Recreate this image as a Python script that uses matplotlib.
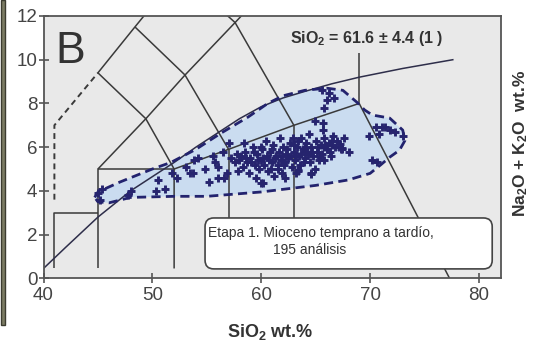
import matplotlib
matplotlib.use("Agg")
import matplotlib.pyplot as plt
from matplotlib.patches import FancyBboxPatch, Polygon, Rectangle

plt.rcParams['font.family'] = ['Liberation Sans', 'DejaVu Sans']
plt.rcParams['mathtext.fontset'] = 'custom'
plt.rcParams['mathtext.bf'] = 'Liberation Sans:bold'
plt.rcParams['mathtext.rm'] = 'Liberation Sans'
plt.rcParams['mathtext.default'] = 'bf'

# ---------------- data ----------------
sio2 = [
    57.6, 57.9, 58.1, 58.3, 58.5, 58.7, 58.9, 59.0, 59.2, 59.4, 59.6, 59.8, 60.0, 60.1, 60.3,
    60.5, 60.6, 60.8, 61.0, 61.1, 61.3, 61.5, 61.6, 61.8, 62.0, 62.1, 62.3, 62.5, 62.6, 62.8,
    63.0, 63.1, 63.3, 63.5, 63.6, 63.8, 64.0, 64.1, 64.3, 64.5, 64.6, 64.8, 65.0, 65.1, 65.3,
    65.5, 65.6, 65.8, 66.0, 66.2, 66.4, 66.6, 66.8, 67.0, 67.3, 67.6, 59.5, 61.2, 63.4, 64.9,
    62.2, 60.4, 62.9, 64.4, 65.7, 61.7, 58.4,
    58.0, 58.6, 59.1, 59.7, 60.2, 60.7, 61.4, 61.9, 62.4, 62.7, 63.2, 63.7, 64.2, 64.7, 65.2,
    65.9, 66.5, 60.9, 61.5, 62.2, 63.9, 59.3, 60.0, 61.0, 63.0, 64.0, 65.4, 66.3, 67.2, 57.8,
    65.6, 66.2, 65.8, 64.9, 63.4, 57.2, 56.0, 55.6, 53.8, 53.1, 68.1, 66.5, 67.1,
    54.2, 55.8, 56.6, 60.2, 61.9, 63.4, 64.6, 65.8, 67.4, 65.7, 63.7,
    70.5, 71.1, 71.8, 72.3, 73.0, 70.8, 69.9, 70.2, 70.6, 71.4,
    66.0, 66.7, 65.8, 67.4,
    45.0, 45.2, 45.4, 48.0, 47.8, 50.3, 51.2, 51.8, 52.3, 50.5, 53.5, 54.8, 55.2, 56.5, 57.0,
    53.7, 56.0, 56.9, 60.0, 63.2, 64.6,
]
alkalis = [
    5.3, 4.9, 5.6, 5.1, 5.8, 5.3, 4.8, 5.5, 6.0, 5.2, 5.7, 5.0, 5.4, 5.9, 5.2,
    5.6, 4.9, 5.8, 5.3, 6.1, 5.5, 5.0, 5.8, 5.4, 6.0, 5.2, 5.7, 5.5, 6.2, 5.1,
    5.8, 5.4, 6.0, 5.6, 5.2, 5.9, 5.5, 6.2, 5.7, 5.3, 6.0, 5.6, 6.3, 5.8, 5.4,
    6.1, 5.7, 6.4, 5.9, 6.2, 5.6, 6.5, 6.0, 6.3, 5.9, 6.4, 4.6, 4.7, 4.9, 5.0,
    4.6, 6.3, 6.4, 6.6, 6.8, 6.4, 6.2,
    5.4, 5.5, 5.3, 5.4, 5.5, 5.4, 5.6, 5.6, 5.9, 5.6, 5.6, 5.7, 5.8, 5.8, 6.0,
    6.1, 6.1, 5.0, 5.2, 5.3, 5.3, 5.8, 6.0, 5.9, 6.1, 5.95, 5.55, 5.8, 6.15, 5.7,
    8.6, 8.5, 7.8, 7.2, 6.3, 5.5, 5.1, 5.6, 5.4, 5.1, 5.8, 6.3, 6.0,
    5.5, 5.3, 4.6, 4.35, 4.8, 4.95, 4.8, 5.4, 5.95, 7.1, 6.4,
    6.9, 6.9, 6.8, 6.7, 6.5, 6.6, 6.5, 5.4, 5.3, 6.9,
    8.15, 8.25, 6.0, 5.9,
    3.9, 3.6, 4.1, 4.0, 3.8, 4.0, 4.1, 4.8, 4.6, 4.5, 4.8, 5.0, 4.4, 5.8, 6.2,
    4.8, 4.6, 4.8, 4.35, 4.8, 4.75,
]

# field outline of the analyses (dashed, filled)
field_x = [44.7, 45.0, 47.0, 50.0, 51.7, 54.0, 56.3, 58.8, 60.6, 62.0, 64.0, 66.0, 67.5,
           68.8, 69.5, 70.2, 71.8, 73.0, 73.2, 72.7, 71.8, 71.0, 70.0, 68.0, 65.0,
           60.0, 55.0, 52.0, 48.0, 46.0, 45.0]
field_y = [3.7, 3.95, 4.4, 5.0, 5.3, 5.9, 6.64, 7.38, 8.0, 8.35, 8.6, 8.7, 8.6,
           8.05, 7.7, 7.47, 7.33, 6.78, 6.3, 5.86, 5.54, 5.2, 4.8, 4.5, 4.25,
           3.95, 3.75, 3.75, 3.7, 3.45, 3.5]

# TAS classification boundaries (Le Bas et al., 1986)
tas_lines = [
    [(41, 0.45), (41, 3), (45, 3)],
    [(45, 0.45), (45, 5), (52, 5)],
    [(52, 0.45), (52, 5), (57, 5.9), (63, 7), (69, 8)],
    [(57, 0.45), (57, 5.9)],
    [(63, 0.45), (63, 7)],
    [(69, 8), (77.3, 0)],
    [(45, 5), (49.4, 7.3), (53, 9.3), (57.6, 11.7), (61, 13.5)],
    [(52, 5), (49.4, 7.3), (45, 9.4), (48.4, 11.5), (52.5, 14)],
    [(57, 5.9), (53, 9.3), (48.4, 11.5)],
    [(63, 7), (57.6, 11.7), (52.5, 14)],
    [(69, 8), (69, 10.3)],
]
tas_dashed = [(41, 3.6), (41, 7), (45, 9.4)]

# alkaline / subalkaline divide (Irvine & Baragar, 1971)
irv_x = [40.0, 42.0, 45.0, 48.0, 52.0, 54.0, 56.0, 58.0, 60.0, 62.0, 64.0, 66.5, 69.0, 73.0, 77.6]
irv_y = [0.45, 1.4, 2.8, 4.0, 5.3, 6.0, 6.65, 7.3, 7.85, 8.25, 8.55, 8.9, 9.2, 9.6, 10.0]

x_ticks = [40, 50, 60, 70, 80]
y_ticks = [0, 2, 4, 6, 8, 10, 12]

# ---------------- figure ----------------
W, H = 534, 348
fig = plt.figure(figsize=(W / 100, H / 100), dpi=100)
fig.patch.set_facecolor('white')
ax = fig.add_axes([43.5 / W, 1 - 278.3 / H, (500.7 - 43.5) / W, (278.3 - 16) / H])
ax.set_facecolor('#e9e9e9')
ax.set_xlim(40, 82)
ax.set_ylim(0, 12)

# left frame remnant
fig.add_artist(Rectangle((0.5 / W, 1 - 325 / H), 4.5 / W, 325 / H, transform=fig.transFigure,
                         facecolor='#7c7c64', edgecolor='#3c3c30', lw=1.0))

ax.add_patch(Polygon(list(zip(field_x, field_y)), closed=True, facecolor='#cadcf0',
                     edgecolor='none', zorder=1))

line_col = '#3a3a3a'
for seg in tas_lines:
    xs, ys = zip(*seg)
    ax.plot(xs, ys, color=line_col, lw=1.1, zorder=2, solid_capstyle='butt')
xs, ys = zip(*tas_dashed)
ax.plot(xs, ys, color=line_col, lw=1.4, zorder=2, dashes=(3, 2.2))
ax.plot(irv_x, irv_y, color='#2e2e4a', lw=1.1, zorder=2)

ax.plot(field_x + field_x[:1], field_y + field_y[:1], color='#23236e', lw=2.0,
        dashes=(3.3, 1.9), zorder=3)

ax.plot(sio2, alkalis, linestyle='none', marker='+', markersize=5.6, mew=2.1,
        color='#26246e', zorder=4)

# annotation box
box = FancyBboxPatch((54.84, 0.43), 81.22 - 54.84, 2.76 - 0.43,
                     boxstyle='round,pad=0,rounding_size=0.8', mutation_aspect=0.5,
                     facecolor='white', edgecolor='#444444', lw=1.2, zorder=5)
ax.add_patch(box)
ax.text(55.1, 2.07, 'Etapa 1. Mioceno temprano a tardío,', fontsize=10, color='#333333',
        ha='left', va='center', zorder=6)
ax.text(61.1, 1.29, '195 análisis', fontsize=10, color='#333333',
        ha='left', va='center', zorder=6)

ax.text(41.05, 9.86, 'B', fontsize=32, color='#333333', ha='left', va='baseline', zorder=6)
ax.text(62.66, 10.78, r'SiO$_2$ = 61.6 ± 4.4 (1 )', fontsize=11.5, fontweight='bold',
        color='#333333', ha='left', va='baseline', zorder=6)

ax.set_xticks(x_ticks)
ax.set_yticks(y_ticks)
ax.tick_params(axis='both', direction='inout', length=7, width=1.2, colors='#555555',
               labelsize=13.5, labelcolor='#444444')
ax.tick_params(axis='x', pad=3)
ax.tick_params(axis='y', pad=1)
for s in ax.spines.values():
    s.set_color('#555555')
    s.set_linewidth(1.3)

fig.text(270 / W, 1 - 332 / H, r'SiO$_2$ wt.%', fontsize=13, fontweight='bold',
         color='#333333', ha='center', va='center')
fig.text(521 / W, 1 - 143 / H, r'Na$_2$O + K$_2$O  wt.%', fontsize=12.5, fontweight='bold',
         color='#333333', ha='center', va='center', rotation=90)

fig.savefig('out.png', dpi=100, facecolor='white')
